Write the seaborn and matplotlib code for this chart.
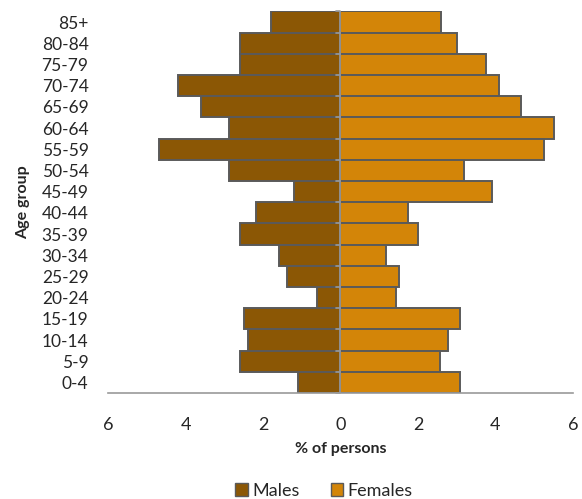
import matplotlib
matplotlib.use('Agg')
import matplotlib.pyplot as plt
from matplotlib.patches import Patch
import seaborn as sns
import pandas as pd

# ---- data (top row first) ----
age_groups = ['85+', '80-84', '75-79', '70-74', '65-69', '60-64', '55-59', '50-54', '45-49',
              '40-44', '35-39', '30-34', '25-29', '20-24', '15-19', '10-14', '5-9', '0-4']
males = [1.80, 2.60, 2.60, 4.19, 3.59, 2.89, 4.69, 2.89, 1.20,
         2.18, 2.60, 1.58, 1.39, 0.60, 2.49, 2.40, 2.60, 1.10]
females = [2.59, 3.00, 3.76, 4.09, 4.67, 5.50, 5.26, 3.18, 3.92,
           1.75, 2.01, 1.17, 1.51, 1.43, 3.09, 2.77, 2.58, 3.09]
x_ticks = [-6, -4, -2, 0, 2, 4, 6]

MALE_COL = '#8b5705'
FEMALE_COL = '#d38508'
EDGE = '#5a5a5a'
AXIS_COL = '#9a9a9a'

df = pd.DataFrame({'age': age_groups, 'Males': [-m for m in males], 'Females': females})

sns.set_style('white')
plt.rcParams['font.family'] = ['Lato', 'DejaVu Sans']

fig = plt.figure(figsize=(5.82, 4.99), dpi=100)
ax = fig.add_axes([0.1856, 0.2124, 0.7989, 0.7646])

sns.barplot(data=df, y='age', x='Males', order=age_groups, color=MALE_COL,
            width=1.0, edgecolor=EDGE, linewidth=1.4, saturation=1, ax=ax)
sns.barplot(data=df, y='age', x='Females', order=age_groups, color=FEMALE_COL,
            width=1.0, edgecolor=EDGE, linewidth=1.4, saturation=1, ax=ax)

ax.set_xlim(-6, 6)
ax.set_ylim(len(age_groups) - 0.5, -0.5)

# category axis sits at x=0
ax.axvline(0, color=AXIS_COL, lw=1.2, zorder=5)
for b in range(len(age_groups) + 1):
    ax.plot([-0.12, 0], [b - 0.5, b - 0.5], color=AXIS_COL, lw=1.2, zorder=5, clip_on=False)

for s in ['top', 'right', 'left']:
    ax.spines[s].set_visible(False)
ax.spines['bottom'].set_color(AXIS_COL)
ax.spines['bottom'].set_linewidth(1.2)

ax.set_xticks(x_ticks)
ax.set_xticklabels([str(abs(t)) for t in x_ticks], fontsize=13)
ax.tick_params(axis='x', direction='out', length=5, width=1.2, color=AXIS_COL, pad=12)
ax.tick_params(axis='y', length=0, pad=14, labelsize=12.5)

ax.set_xlabel('% of persons', fontsize=11.5, fontweight='bold', labelpad=7)
ax.set_ylabel('Age group', fontsize=11.5, fontweight='bold', labelpad=8)

handles = [Patch(facecolor=MALE_COL, edgecolor=EDGE, label='Males'),
           Patch(facecolor=FEMALE_COL, edgecolor=EDGE, label='Females')]
fig.legend(handles=handles, loc='lower center', bbox_to_anchor=(0.557, -0.032), ncol=2,
           frameon=False, fontsize=13, handlelength=0.7, handleheight=0.7,
           handletextpad=0.25, columnspacing=1.7)

fig.savefig('out.png', dpi=100)
